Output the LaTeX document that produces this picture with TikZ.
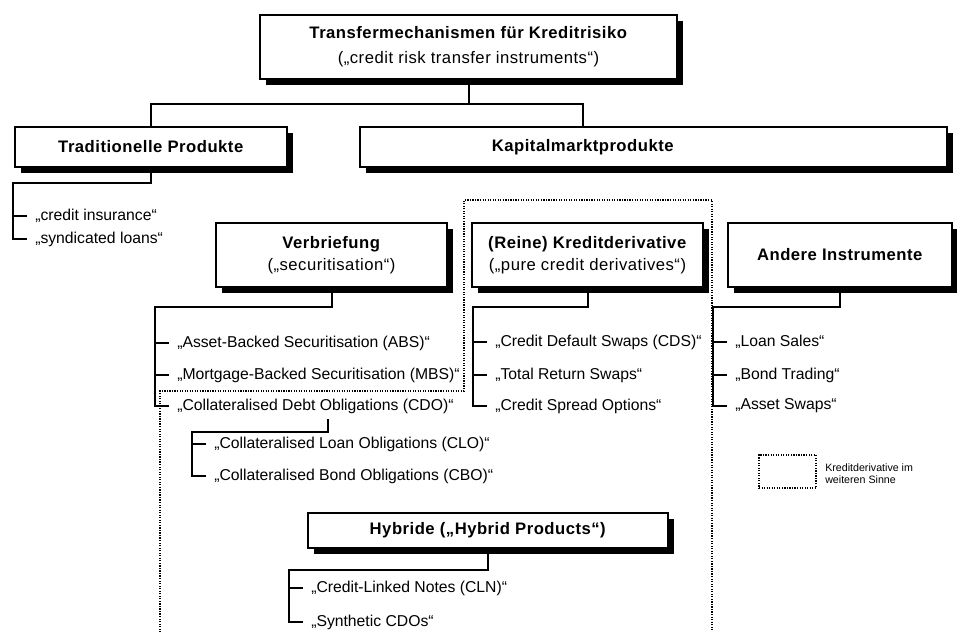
\documentclass[tikz,border=0pt]{standalone}
\usepackage{fontspec}
\setmainfont{Liberation Sans}
\newfontfamily\boxfont{Liberation Sans}[LetterSpace=3]
\usepackage{tikz}
\usetikzlibrary{calc, shadows}

\def\px{0.75pt}

\tikzset{
	boxtext/.style = {font = \boxfont\fontsize{12.5}{16.5}\selectfont, align = center},
	mainbox/.style = {boxtext, draw, fill = white, line width = 0.9pt, inner sep = 0pt,
		drop shadow = {shadow xshift = 4.8pt, shadow yshift = -4.8pt, opacity = 1, fill = black}},
	item/.style = {anchor = west, inner xsep = 6pt, inner ysep = 0pt, font = \fontsize{11.8}{14}\selectfont},
	bus/.style = {line width = 1.5pt},
	widesense/.style = {densely dotted, line width = 0.9pt},
}

\begin{document}
\begin{tikzpicture}[x = \px, y = -\px]
		\useasboundingbox (0,0) rectangle (957,632);
		
		\draw [widesense] (160,640) -- (160,391) -- (464,391) -- (464,200) -- (712,200) -- (712,640);
		
		\node [mainbox, minimum width = 417*\px, minimum height = 64*\px] (top) at (468.5,47) {\textbf{Transfermechanismen für Kreditrisiko}\\[2pt](„credit risk transfer instruments“)};
		\node [mainbox, minimum width = 272*\px, minimum height = 40*\px] (trad) at (151,147) {\textbf{Traditionelle Produkte}};
		\node [mainbox, minimum width = 587*\px, minimum height = 40*\px] (kapital) at (653.5,147) {};
		\node [boxtext] (kapital text) at (583,147) {\textbf{Kapitalmarktprodukte}};
		\node [mainbox, minimum width = 231*\px, minimum height = 64*\px] (verbr) at (331.5,255) {\textbf{Verbriefung}\\(„securitisation“)};
		\node [mainbox, minimum width = 231*\px, minimum height = 64*\px] (reine) at (587.5,255) {\textbf{(Reine) Kreditderivative}\\(„pure credit derivatives“)};
		\node [mainbox, minimum width = 224*\px, minimum height = 64*\px] (andere) at (840,255) {\textbf{Andere Instrumente}};
		\node [mainbox, minimum width = 360*\px, minimum height = 35*\px] (hybrid) at (488,530.5) {\textbf{Hybride („Hybrid Products“)}};
		
		\node [item] (insurance) at (27,216) {„credit insurance“};
		\node [item] (syndicated) at (27,239) {„syndicated loans“};
		\node [item] (abs) at (169,343) {„Asset-Backed Securitisation (ABS)“};
		\node [item] (mbs) at (169,375) {„Mortgage-Backed Securitisation (MBS)“};
		\node [item] (cdo) at (169,406) {„Collateralised Debt Obligations (CDO)“};
		\node [item] (clo) at (206,444) {„Collateralised Loan Obligations (CLO)“};
		\node [item] (cbo) at (206,476) {„Collateralised Bond Obligations (CBO)“};
		\node [item] (cds) at (487,342) {„Credit Default Swaps (CDS)“};
		\node [item] (trs) at (487,375) {„Total Return Swaps“};
		\node [item] (cso) at (487,406) {„Credit Spread Options“};
		\node [item] (loan) at (727,342) {„Loan Sales“};
		\node [item] (bond) at (727,375) {„Bond Trading“};
		\node [item] (aswaps) at (727,406) {„Asset Swaps“};
		\node [item] (cln) at (303,588) {„Credit-Linked Notes (CLN)“};
		\node [item] (synth) at (303,622) {„Synthetic CDOs“};
		
		\coordinate (root split) at (468.5,104);
		\coordinate (trad bus) at (13,183);
		\coordinate (verbr bus) at (155,307);
		\coordinate (reine bus) at (473,307);
		\coordinate (andere bus) at (713,307);
		\coordinate (cdo drop) at (328,419);
		\coordinate (cdo bus) at (192,432);
		\coordinate (hybrid bus) at (289,570);
		
		\draw [bus] (top.south) -- (root split) -| (trad.north);
		\draw [bus] (root split) -| (kapital text |- kapital.north);
		
		\draw [bus] (trad.south) |- (trad bus) |- (syndicated.west);
		\draw [bus] (trad bus) |- (insurance.west);
		
		\draw [bus] (verbr.south) |- (verbr bus) |- (cdo.west);
		\foreach \n in {abs, mbs}
			\draw [bus] (verbr bus) |- (\n.west);
		
		\draw [bus] (cdo drop) |- (cdo bus) |- (cbo.west);
		\draw [bus] (cdo bus) |- (clo.west);
		
		\draw [bus] (reine.south) |- (reine bus) |- (cso.west);
		\foreach \n in {cds, trs}
			\draw [bus] (reine bus) |- (\n.west);
		
		\draw [bus] (andere.south) |- (andere bus) |- (aswaps.west);
		\foreach \n in {loan, bond}
			\draw [bus] (andere bus) |- (\n.west);
		
		\draw [bus] (hybrid.south) |- (hybrid bus) |- (synth.west);
		\draw [bus] (hybrid bus) |- (cln.west);
		
		\node [draw, widesense, minimum width = 57*\px, minimum height = 33*\px] (legend box) at (787.5,471.5) {};
		\node [anchor = west, align = left, inner sep = 0pt, font = \fontsize{8}{9}\selectfont] (legend text) at (825,474) {Kreditderivative im\\weiteren Sinne};
	\end{tikzpicture}
\end{document}
